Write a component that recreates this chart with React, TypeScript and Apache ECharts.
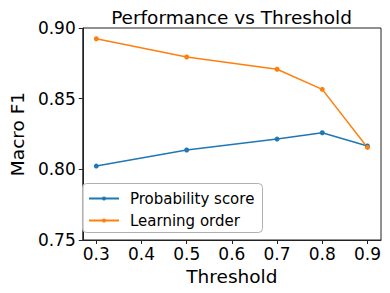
import React, { useEffect, useRef } from "react";
import * as echarts from "echarts";

const thresholds = [0.3, 0.5, 0.7, 0.8, 0.9];
const probabilityScore = [0.8023, 0.8137, 0.8214, 0.8259, 0.8165];
const learningOrder = [0.8924, 0.8795, 0.8708, 0.8566, 0.8155];
const xTicks = [0.3, 0.4, 0.5, 0.6, 0.7, 0.8, 0.9];

const FONT = "DejaVu Sans";

export default function App() {
  const ref = useRef<HTMLDivElement>(null);
  useEffect(() => {
    const chart = echarts.init(ref.current!, undefined, { renderer: "svg" });
    chart.setOption({
      animation: false,
      backgroundColor: "#fff",
      title: {
        text: "Performance vs Threshold",
        left: 226.5,
        textAlign: "center",
        top: 3,
        textStyle: { fontFamily: FONT, fontSize: 18.5, fontWeight: "normal", color: "#000" },
      },
      grid: {
        left: 72,
        top: 28,
        right: 9,
        bottom: 53,
        show: true,
        borderColor: "#222",
        borderWidth: 1,
        backgroundColor: "transparent",
      },
      graphic: [
        {
          type: "rect",
          x: 82.5,
          y: 183.5,
          shape: { x: 0, y: 0, width: 180, height: 49, r: 4 },
          style: { fill: "rgba(255,255,255,0.8)", stroke: "#b0b0b0", lineWidth: 1 },
          z: 5,
        },
      ],
      legend: {
        orient: "vertical",
        left: 82,
        top: 183,
        itemWidth: 30,
        itemHeight: 5,
        itemGap: 7,
        padding: [8, 8, 8, 6],
        z: 10,
        textStyle: { fontFamily: FONT, fontSize: 15, color: "#000", padding: [0, 0, 0, 6] },
        data: ["Probability score", "Learning order"],
      },
      xAxis: {
        type: "value",
        min: 0.27,
        max: 0.93,
        name: "Threshold",
        nameLocation: "middle",
        nameGap: 22,
        nameTextStyle: { fontFamily: FONT, fontSize: 18.5, color: "#000" },
        axisLine: { show: true, lineStyle: { color: "#222", width: 1 } },
        axisTick: { show: true, length: 4, lineStyle: { color: "#222" }, customValues: xTicks },
        axisLabel: {
          fontFamily: FONT,
          fontSize: 17,
          color: "#000",
          margin: 5,
          customValues: xTicks,
          formatter: (v: number) => v.toFixed(1),
        },
        splitLine: { show: false },
      },
      yAxis: {
        type: "value",
        min: 0.75,
        max: 0.9,
        interval: 0.05,
        name: "Macro F1",
        nameLocation: "middle",
        nameGap: 45,
        nameTextStyle: { fontFamily: FONT, fontSize: 18.5, color: "#000" },
        axisLine: { show: true, lineStyle: { color: "#222", width: 1 } },
        axisTick: { show: true, length: 4, lineStyle: { color: "#222" } },
        axisLabel: {
          fontFamily: FONT,
          fontSize: 17,
          color: "#000",
          margin: 7,
          formatter: (v: number) => v.toFixed(2),
        },
        splitLine: { show: false },
      },
      series: [
        {
          name: "Probability score",
          type: "line",
          data: thresholds.map((t, i) => [t, probabilityScore[i]]),
          color: "#1f77b4",
          lineStyle: { width: 1.5 },
          symbol: "circle",
          symbolSize: 5,
        },
        {
          name: "Learning order",
          type: "line",
          data: thresholds.map((t, i) => [t, learningOrder[i]]),
          color: "#ff7f0e",
          lineStyle: { width: 1.5 },
          symbol: "circle",
          symbolSize: 5,
        },
      ],
    });
    return () => chart.dispose();
  }, []);
  return <div ref={ref} style={{ width: 390, height: 293, position: "absolute", left: 0, top: 0 }} />;
}
